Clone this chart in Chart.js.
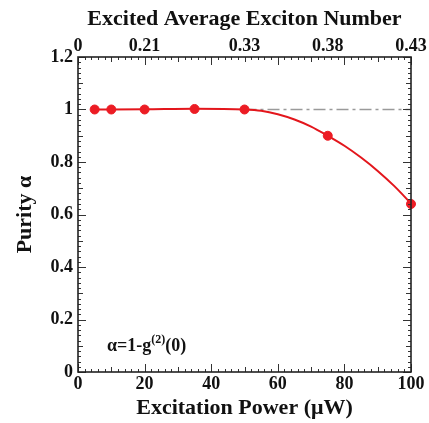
<!DOCTYPE html>
<html>
<head>
<meta charset="utf-8">
<script src="https://cdn.jsdelivr.net/npm/chart.js@4.4.1/dist/chart.umd.min.js"></script>
<style>
  html, body { margin: 0; padding: 0; background: #fff; }
  #wrap { width: 429px; height: 423px; }
</style>
</head>
<body>
<div id="wrap"><canvas id="chart" width="429" height="423"></canvas></div>
<script>
// measured points
const powerX = [5, 10, 20, 35, 50, 75, 100];
const purityY = [1.0, 1.0, 1.0, 1.002, 1.0, 0.90, 0.64];

// fit curve
const fitX = [5, 20, 35, 50, 55, 60, 65, 70, 75, 80, 85, 90, 95, 100];
const fitY = [1.0, 1.001, 1.003, 1.0, 0.995, 0.982, 0.962, 0.935, 0.90, 0.862, 0.817, 0.766, 0.708, 0.642];

// dash-dot reference at purity 1
const refX = [50, 100];
const refY = [1, 1];

// top axis: exciton number at given powers
const topTickPos = [0, 20, 50, 75, 100];
const topTickLabels = ['0', '0.21', '0.33', '0.38', '0.43'];

const serif = 'Liberation Serif';
const tickFont = { family: serif, size: 18, weight: 'bold' };
const titleFont = { family: serif, size: 22, weight: 'bold' };

function toXY(xs, ys) {
    return xs.map((x, i) => ({ x: x, y: ys[i] }));
}

// frame + inward ticks on all four sides
const frameTicks = {
    id: 'frameTicks',
    afterDraw(chart) {
        const ctx = chart.ctx;
        const a = chart.chartArea;
        const xs = chart.scales.x;
        const ys = chart.scales.y;
        ctx.save();
        ctx.strokeStyle = '#333';
        ctx.lineWidth = 1;
        ctx.beginPath();
        for (let v = 0; v <= 100; v += 2) {
            const px = Math.round(xs.getPixelForValue(v)) + 0.5;
            const len = v % 20 === 0 ? 8 : (v % 10 === 0 ? 5 : 3);
            ctx.moveTo(px, a.bottom); ctx.lineTo(px, a.bottom - len);
            ctx.moveTo(px, a.top); ctx.lineTo(px, a.top + len);
        }
        for (let i = 0; i <= 60; i++) {
            const py = Math.round(ys.getPixelForValue(i * 0.02)) + 0.5;
            const len = i % 10 === 0 ? 8 : (i % 5 === 0 ? 5 : 3);
            ctx.moveTo(a.left, py); ctx.lineTo(a.left + len, py);
            ctx.moveTo(a.right, py); ctx.lineTo(a.right - len, py);
        }
        ctx.stroke();
        ctx.strokeStyle = '#222';
        ctx.lineWidth = 1.6;
        ctx.strokeRect(a.left, a.top, a.right - a.left, a.bottom - a.top);

        // formula label
        ctx.fillStyle = '#111';
        ctx.textBaseline = 'alphabetic';
        ctx.font = 'bold 18px "' + serif + '"';
        let tx = a.left + 29;
        const ty = ys.getPixelForValue(0.1) + 5;
        const p1 = '\u03b1=1-g';
        ctx.fillText(p1, tx, ty);
        tx += ctx.measureText(p1).width;
        ctx.font = 'bold 12px "' + serif + '"';
        ctx.fillText('(2)', tx, ty - 8);
        tx += ctx.measureText('(2)').width;
        ctx.font = 'bold 18px "' + serif + '"';
        ctx.fillText('(0)', tx, ty);
        ctx.restore();
    }
};

new Chart(document.getElementById('chart'), {
    type: 'scatter',
    data: {
        datasets: [
            {
                data: toXY(refX, refY),
                showLine: true,
                borderColor: '#9a9a9a',
                borderWidth: 1.3,
                borderDash: [12, 4, 3, 4],
                pointRadius: 0,
                order: 3
            },
            {
                data: toXY(fitX, fitY),
                showLine: true,
                borderColor: '#e3161c',
                borderWidth: 2,
                pointRadius: 0,
                cubicInterpolationMode: 'monotone',
                order: 2
            },
            {
                data: toXY(powerX, purityY),
                showLine: false,
                backgroundColor: '#ec1c24',
                borderColor: '#ec1c24',
                pointRadius: 4.5,
                clip: false,
                order: 1
            }
        ]
    },
    options: {
        responsive: false,
        animation: false,
        layout: { padding: { left: 0, right: 18, top: 0, bottom: 0 } },
        plugins: { legend: { display: false }, tooltip: { enabled: false } },
        scales: {
            x: {
                type: 'linear', position: 'bottom', min: 0, max: 100,
                grid: { display: false, drawTicks: false },
                border: { display: false },
                ticks: { stepSize: 20, color: '#111', font: tickFont, padding: 2, maxRotation: 0 },
                title: { display: true, text: 'Excitation Power (\u03bcW)', color: '#111', font: titleFont, padding: { top: 1, bottom: 1 } },
                afterFit(s) { s.height = 51; s.paddingLeft = 0; s.paddingRight = 0; }
            },
            x2: {
                type: 'linear', position: 'top', min: 0, max: 100,
                grid: { display: false, drawTicks: false },
                border: { display: false },
                afterBuildTicks(s) { s.ticks = topTickPos.map(v => ({ value: v })); },
                ticks: {
                    color: '#111', font: tickFont, padding: 0, maxRotation: 0, autoSkip: false,
                    callback: (v) => topTickLabels[topTickPos.indexOf(v)]
                },
                title: { display: true, text: 'Excited Average Exciton Number', color: '#111', font: titleFont, padding: { top: 6, bottom: 1 } },
                afterFit(s) { s.height = 57; s.paddingLeft = 0; s.paddingRight = 0; }
            },
            y: {
                min: 0, max: 1.2,
                grid: { display: false, drawTicks: false },
                border: { display: false },
                ticks: {
                    stepSize: 0.2, color: '#111', font: tickFont, padding: 5,
                    callback: (v) => String(Math.round(v * 10) / 10)
                },
                title: { display: true, text: 'Purity \u03b1', color: '#111', font: titleFont, padding: { top: 12, bottom: 4 } },
                afterFit(s) { s.width = 78; }
            }
        }
    },
    plugins: [frameTicks]
});
</script>
</body>
</html>
